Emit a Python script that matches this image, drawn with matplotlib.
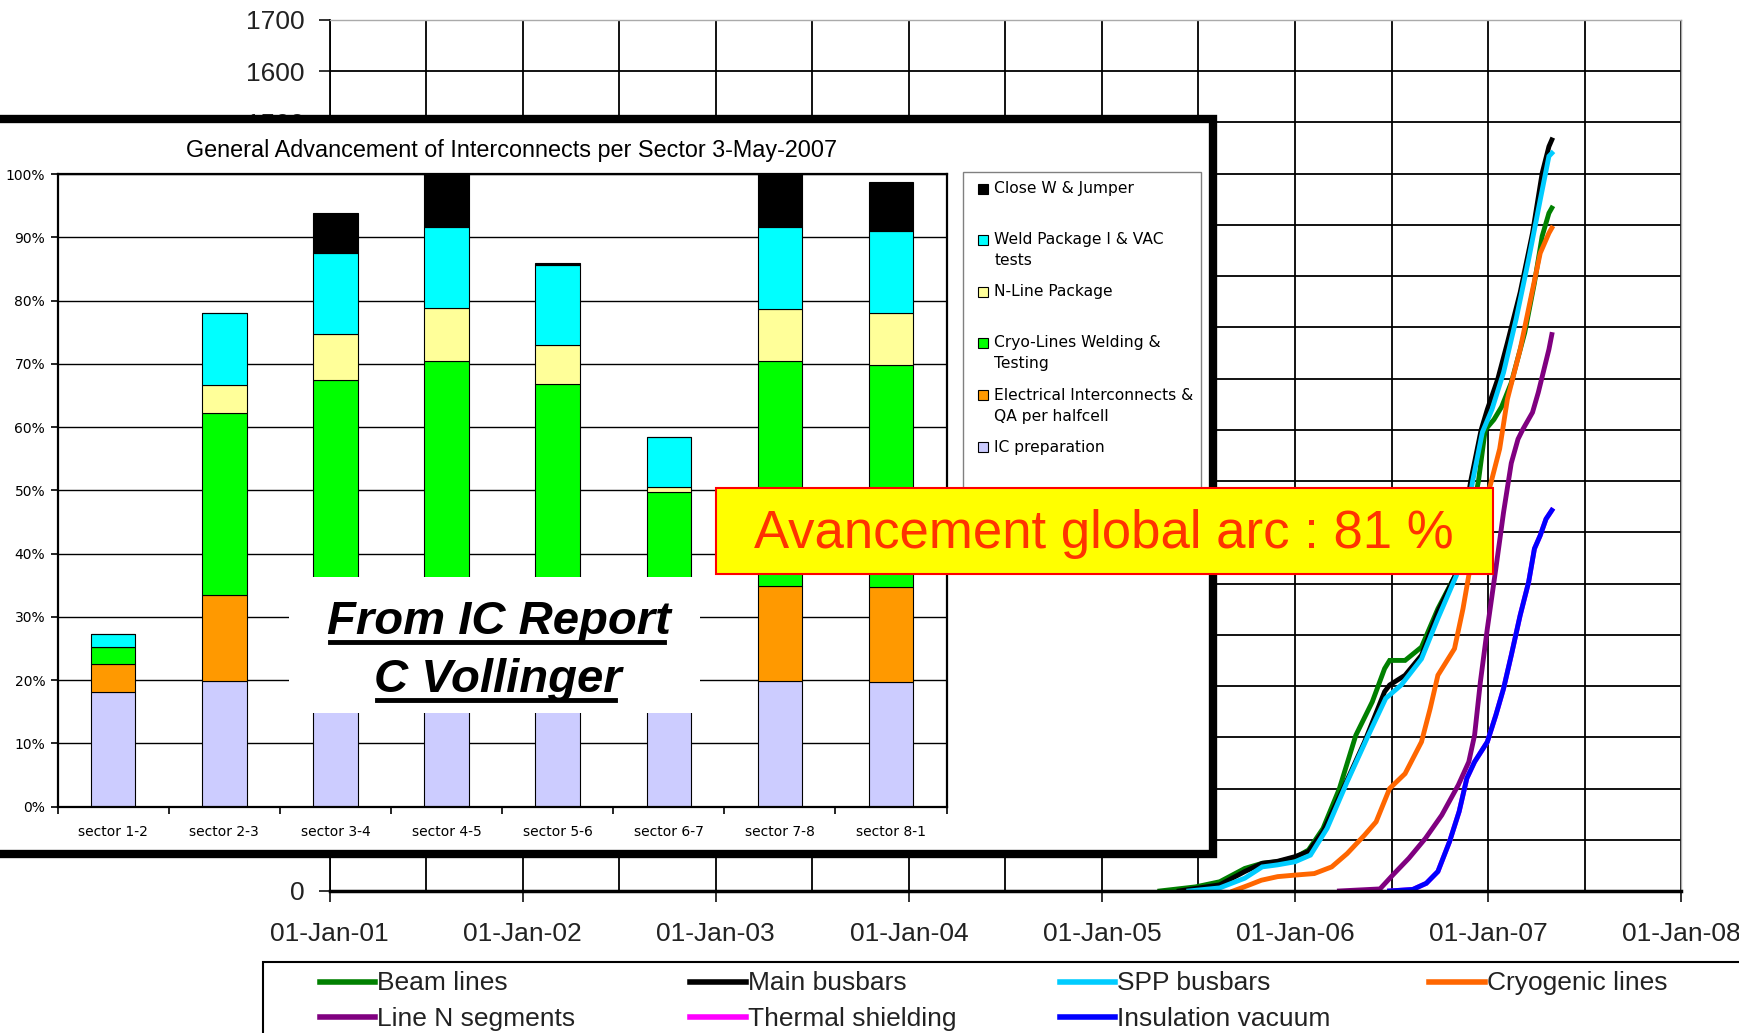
import numpy as np
import matplotlib
matplotlib.use("Agg")
import matplotlib.pyplot as plt
from matplotlib.patches import Rectangle
from matplotlib.lines import Line2D
from matplotlib import font_manager

names = {f.name for f in font_manager.fontManager.ttflist}
if 'Liberation Sans Narrow' in names:
    NARROW = 'Liberation Sans Narrow'
    NSIZE = 23
else:
    NARROW = 'Liberation Sans'
    NSIZE = 19
ARIAL = 'Liberation Sans'

# ---------------- main chart data (decimal years, cumulative count) -------------
year_ticks = [2001, 2002, 2003, 2004, 2005, 2006, 2007, 2008]
year_labels = ['01-Jan-01', '01-Jan-02', '01-Jan-03', '01-Jan-04',
               '01-Jan-05', '01-Jan-06', '01-Jan-07', '01-Jan-08']

beam_t = [2005.30, 2005.485, 2005.61, 2005.74, 2005.83, 2005.91, 2006.0, 2006.07,
          2006.145, 2006.23, 2006.315, 2006.40, 2006.464, 2006.49, 2006.57, 2006.655,
          2006.74, 2006.83, 2006.90, 2006.95, 2006.985, 2007.03, 2007.07, 2007.12,
          2007.19, 2007.24, 2007.28, 2007.315, 2007.33]
beam_v = [0, 8, 18, 44, 54, 57, 65, 80, 122, 200, 304, 369, 434, 450, 450, 476,
          551, 616, 700, 800, 900, 920, 945, 992, 1090, 1187, 1278, 1323, 1333]

main_t = [2005.40, 2005.61, 2005.74, 2005.83, 2005.91, 2006.0, 2006.07, 2006.145,
          2006.25, 2006.36, 2006.464, 2006.49, 2006.57, 2006.655, 2006.74, 2006.83,
          2006.91, 2006.964, 2006.996, 2007.05, 2007.10, 2007.166, 2007.23, 2007.28,
          2007.315, 2007.33]
main_v = [0, 12, 38, 54, 58, 67, 77, 116, 200, 291, 389, 402, 421, 460, 545, 616,
          800, 900, 940, 999, 1070, 1168, 1284, 1401, 1453, 1466]

spp_t = [2005.45, 2005.61, 2005.74, 2005.83, 2005.91, 2006.0, 2006.08, 2006.166,
         2006.27, 2006.38, 2006.47, 2006.55, 2006.655, 2006.74, 2006.836, 2006.92,
         2006.97, 2007.02, 2007.08, 2007.145, 2007.21, 2007.27, 2007.315, 2007.33]
spp_v = [0, 6, 25, 47, 51, 57, 70, 122, 213, 304, 376, 402, 453, 532, 616, 800,
         895, 940, 1012, 1116, 1233, 1349, 1434, 1440]

cryo_t = [2005.68, 2005.765, 2005.826, 2005.91, 2006.0, 2006.1, 2006.19, 2006.27,
          2006.36, 2006.42, 2006.49, 2006.57, 2006.655, 2006.70, 2006.74, 2006.826,
          2006.87, 2006.90, 2006.96, 2007.017, 2007.06, 2007.10, 2007.166, 2007.22,
          2007.27, 2007.315, 2007.33]
cryo_v = [0, 12, 21, 28, 31, 34, 47, 73, 109, 135, 200, 229, 291, 356, 421, 473,
          551, 616, 720, 800, 863, 960, 1057, 1155, 1245, 1284, 1294]

linen_t = [2006.23, 2006.44, 2006.506, 2006.59, 2006.676, 2006.76, 2006.846, 2006.90,
           2006.93, 2006.96, 2006.996, 2007.04, 2007.08, 2007.12, 2007.155, 2007.18,
           2007.23, 2007.26, 2007.294, 2007.315, 2007.33]
linen_v = [0, 4, 31, 64, 103, 148, 207, 252, 304, 408, 512, 629, 739, 835, 882, 901,
           934, 973, 1025, 1057, 1086]

thermal_t = [2006.49, 2006.61, 2006.68, 2006.74, 2006.80, 2006.85, 2006.89, 2006.93,
             2006.996, 2007.04, 2007.08, 2007.12, 2007.166, 2007.21, 2007.24, 2007.27,
             2007.30, 2007.33]
thermal_v = [0, 3, 15, 38, 96, 155, 220, 252, 291, 343, 395, 460, 538, 603, 668, 694,
             726, 743]

insul_t = [2006.49, 2006.61, 2006.68, 2006.74, 2006.80, 2006.85, 2006.89, 2006.93,
           2006.996, 2007.04, 2007.08, 2007.12, 2007.166, 2007.21, 2007.24, 2007.27,
           2007.30, 2007.33]
insul_v = [0, 3, 15, 38, 96, 155, 220, 252, 291, 343, 395, 460, 538, 603, 668, 694,
           726, 743]

series_names = ['Beam lines', 'Main busbars', 'SPP busbars', 'Cryogenic lines',
                'Line N segments', 'Thermal shielding', 'Insulation vacuum']
series_colors = ['#008000', '#000000', '#00CCFF', '#FF6600',
                 '#800080', '#FF00FF', '#0000FF']

# ---------------- inset bar data (percent per sector) ----------------
sectors = ['sector 1-2', 'sector 2-3', 'sector 3-4', 'sector 4-5',
           'sector 5-6', 'sector 6-7', 'sector 7-8', 'sector 8-1']
ic_prep = [18.1, 19.8, 20.0, 20.0, 20.0, 20.0, 19.9, 19.7]
elec_ic = [4.5, 13.7, 15.0, 15.0, 15.0, 15.0, 15.0, 15.0]
cryo_weld = [2.7, 28.7, 32.5, 35.4, 31.8, 14.7, 35.5, 35.2]
nline_pkg = [0.0, 4.4, 7.2, 8.5, 6.2, 0.9, 8.3, 8.2]
weld_pkg = [2.0, 11.4, 12.9, 12.8, 12.6, 7.8, 13.0, 12.9]
close_w = [0.0, 0.0, 6.3, 8.3, 0.3, 0.0, 8.3, 7.7]
bar_names = ['IC preparation', 'Electrical Interconnects &\nQA per halfcell',
             'Cryo-Lines Welding &\nTesting', 'N-Line Package',
             'Weld Package I & VAC\ntests', 'Close W & Jumper']
bar_colors = ['#CCCCFF', '#FF9900', '#00FF00', '#FFFF99', '#00FFFF', '#000000']
pct_ticks = [0, 10, 20, 30, 40, 50, 60, 70, 80, 90, 100]

W, H = 1568.0, 931.0
def fx(x): return x / W
def fy(y): return 1 - y / H

fig = plt.figure(figsize=(17.4, 10.33), dpi=100)
fig.patch.set_facecolor('white')

# ---------------- main axes ----------------
ax = fig.add_axes([fx(297), fy(803), fx(1515) - fx(297), fy(18) - fy(803)])
ax.set_zorder(0)
ax.set_xlim(2001, 2008)
ax.set_ylim(0, 1700)
ax.set_xticks(year_ticks)
ax.set_xticklabels(year_labels, family=[NARROW, 'DejaVu Sans'], fontsize=NSIZE)
ax.set_xticks(np.arange(2001.5, 2008, 1.0), minor=True)
ax.set_yticks(np.arange(0, 1701, 100))
ax.set_yticklabels([str(v) for v in range(0, 1701, 100)],
                   family=[NARROW, 'DejaVu Sans'], fontsize=NSIZE)
ax.tick_params(axis='x', which='major', length=8, width=1.3, pad=14, colors='#222222')
ax.tick_params(axis='x', which='minor', length=0)
ax.tick_params(axis='y', length=8, width=1.3, pad=10, colors='#222222')
ax.grid(True, which='both', axis='x', color='black', lw=1.3)
ax.grid(True, which='major', axis='y', color='black', lw=1.3)
ax.set_axisbelow(True)
for s in ['top', 'right']:
    ax.spines[s].set_color('#AAAAAA')
    ax.spines[s].set_linewidth(1.0)
ax.spines['left'].set_linewidth(1.3)
ax.spines['bottom'].set_linewidth(2.5)

all_t = [beam_t, main_t, spp_t, cryo_t, linen_t, thermal_t, insul_t]
all_v = [beam_v, main_v, spp_v, cryo_v, linen_v, thermal_v, insul_v]
for t, v, c, n in zip(all_t, all_v, series_colors, series_names):
    ax.plot(t, v, color=c, lw=3.5, label=n, solid_joinstyle='miter')

# main legend (manual, Excel-like layout)
fig.add_artist(Rectangle((fx(237), -0.05), 1.2, fy(867) + 0.05, transform=fig.transFigure,
                         facecolor='white', edgecolor='black', lw=1.5, zorder=1))
col_x = [288, 622, 955, 1288]
row_y = [885, 917]
for i, (n, c) in enumerate(zip(series_names, series_colors)):
    r, k = divmod(i, 4)
    x0, y0 = col_x[k], row_y[r]
    fig.add_artist(Line2D([fx(x0), fx(x0 + 50)], [fy(y0), fy(y0)], transform=fig.transFigure,
                          color=c, lw=4, zorder=2))
    fig.text(fx(x0 + 52), fy(y0 + 1), n, family=[NARROW, 'DejaVu Sans'], fontsize=NSIZE,
             va='center', ha='left', color='#222222', zorder=2)

# ---------------- inset panel ----------------
fig.add_artist(Rectangle((-0.02, fy(770)), fx(1093) + 0.02, fy(107) - fy(770),
                         transform=fig.transFigure, facecolor='white', edgecolor='black',
                         lw=6, zorder=1.5))

bx = fig.add_axes([fx(52), fy(727), fx(853) - fx(52), fy(157) - fy(727)])
bx.set_zorder(2)
xpos = np.arange(len(sectors))
bottom = np.zeros(len(sectors))
for vals, col, name in zip([ic_prep, elec_ic, cryo_weld, nline_pkg, weld_pkg, close_w],
                           bar_colors, bar_names):
    bx.bar(xpos, vals, 0.4, bottom=bottom, color=col, edgecolor='black', lw=0.8,
           label=name, zorder=2)
    bottom = bottom + np.array(vals)
bx.set_xlim(-0.5, len(sectors) - 0.5)
bx.set_ylim(0, 100)
bx.set_yticks(pct_ticks)
bx.set_yticklabels([f'{p}%' for p in pct_ticks], family='DejaVu Sans', fontsize=10)
bx.set_xticks(xpos)
bx.set_xticklabels(sectors, family='DejaVu Sans', fontsize=10)
bx.set_xticks(np.arange(-0.5, len(sectors), 1.0), minor=True)
bx.tick_params(axis='x', which='major', length=0, pad=13)
bx.tick_params(axis='x', which='minor', length=5, width=1.2)
bx.tick_params(axis='y', length=5, width=1.2, pad=4)
bx.grid(True, axis='y', color='black', lw=1.0, zorder=0)
bx.set_axisbelow(True)
for s in bx.spines.values():
    s.set_linewidth(1.6)

# white box hiding part of the chart, with the credit text
bx.add_patch(Rectangle((1.58, 14.8), 3.70, 21.5, facecolor='white', edgecolor='none',
                       zorder=3))
t1 = bx.text(3.47, 29.2, 'From IC Report', ha='center', va='center', family=ARIAL,
             fontsize=34, fontweight='bold', fontstyle='italic', zorder=4)
t2 = bx.text(3.46, 20.0, 'C Vollinger', ha='center', va='center', family=ARIAL,
             fontsize=34, fontweight='bold', fontstyle='italic', zorder=4)

fig.text(fx(461), fy(136), 'General Advancement of Interconnects per Sector 3-May-2007',
         ha='center', va='center', family=ARIAL, fontsize=16.8, zorder=3)

# inset legend (manual)
fig.add_artist(Rectangle((fx(868), fy(440)), fx(1082) - fx(868), fy(155) - fy(440),
                         transform=fig.transFigure, facecolor='white', edgecolor='#808080',
                         lw=1.0, zorder=3))
leg_y = [170, 216, 263, 309, 356, 403]
for yy, name, col in zip(leg_y, bar_names[::-1], bar_colors[::-1]):
    fig.add_artist(Rectangle((fx(881), fy(yy + 4.5)), fx(9), 9 / H, transform=fig.transFigure,
                             facecolor=col, edgecolor='black', lw=0.8, zorder=4))
    for j, line in enumerate(name.split('\n')):
        fig.text(fx(896), fy(yy + 19 * j), line, ha='left', va='center',
                 family='DejaVu Sans', fontsize=11.2, zorder=4)

# yellow banner
fig.add_artist(Rectangle((fx(645), fy(517)), fx(1345) - fx(645), fy(440) - fy(517),
                         transform=fig.transFigure, facecolor='#FFFF00', edgecolor='#FF0000',
                         lw=1.5, zorder=6))
fig.text(fx(995), fy(481), 'Avancement global arc : 81 %', ha='center', va='center',
         family=ARIAL, fontsize=38, color='#FF3300', zorder=7)

# underlines for the credit text
fig.canvas.draw()
inv = fig.transFigure.inverted()
for t in (t1, t2):
    bb = t.get_window_extent()
    (x0, y0), (x1, y1) = inv.transform([[bb.x0, bb.y0], [bb.x1, bb.y1]])
    fig.add_artist(Line2D([x0 + 0.002, x1 - 0.004], [y0 + 0.002, y0 + 0.002],
                          transform=fig.transFigure, color='black', lw=3.5, zorder=5))

fig.savefig('out.png', dpi=100, facecolor='white')
